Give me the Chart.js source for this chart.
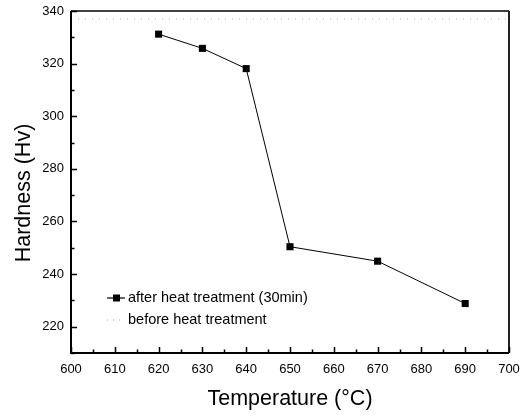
<!DOCTYPE html>
<html>
<head>
<meta charset="utf-8">
<script src="https://cdn.jsdelivr.net/npm/chart.js@4.4.0/dist/chart.umd.min.js"></script>
<style>
  html, body { margin: 0; padding: 0; background: #fff; }
  #wrap { width: 523px; height: 416px; }
</style>
</head>
<body>
<div id="wrap"><canvas id="myChart" width="523" height="416"></canvas></div>
<script>
const temperatures = [620, 630, 640, 650, 670, 690]
const hardnessAfter = [331.2, 325.8, 318.1, 250.4, 244.9, 228.8]
const beforeTemps = [600, 700]
const hardnessBefore = [337, 337]
const xTicks = [600, 610, 620, 630, 640, 650, 660, 670, 680, 690, 700]
const yTicks = [220, 240, 260, 280, 300, 320, 340]
const seriesLabels = ['after heat treatment (30min)', 'before heat treatment']
const yTitle = 'Hardness (Hv)'

const FONT = 'Arial, "Liberation Sans", sans-serif'

// frame, inward ticks, y title and the legend box
const framePlugin = {
    id: 'frame',
    afterDraw(chart){
        const ctx = chart.ctx
        const a = chart.chartArea
        const xs = chart.scales.x
        const ys = chart.scales.y
        ctx.save()
        ctx.strokeStyle = '#000'
        ctx.lineWidth = 1.5
        ctx.beginPath()
        ctx.moveTo(a.left, a.top)
        ctx.lineTo(a.right, a.top)
        ctx.stroke()
        ctx.strokeStyle = '#222'
        ctx.lineWidth = 2
        ctx.beginPath()
        ctx.moveTo(a.right, a.top)
        ctx.lineTo(a.right, a.bottom)
        ctx.stroke()
        ctx.strokeStyle = '#000'
        ctx.lineWidth = 2
        ctx.beginPath()
        ctx.moveTo(a.left, a.top)
        ctx.lineTo(a.left, a.bottom)
        ctx.lineTo(a.right, a.bottom)
        ctx.stroke()

        ctx.lineWidth = 1.5
        ctx.beginPath()
        for(let v = 600; v <= 700; v += 5){
            const px = Math.round(xs.getPixelForValue(v)) + 0.5
            const len = v % 10 === 0 ? 6 : 3.5
            ctx.moveTo(px, a.bottom)
            ctx.lineTo(px, a.bottom - len)
        }
        for(let v = 210; v <= 340; v += 10){
            const py = Math.round(ys.getPixelForValue(v)) + 0.5
            const len = v % 20 === 0 ? 6 : 3.5
            ctx.moveTo(a.left, py)
            ctx.lineTo(a.left + len, py)
        }
        ctx.stroke()

        // y axis title
        ctx.save()
        ctx.translate(24, 193)
        ctx.rotate(-Math.PI / 2)
        ctx.fillStyle = '#000'
        ctx.font = '21.5px ' + FONT
        ctx.textAlign = 'center'
        ctx.textBaseline = 'middle'
        ctx.fillText(yTitle, 0, 0)
        ctx.restore()

        // legend
        const lx = 107, ly1 = 298, ly2 = 320
        ctx.strokeStyle = '#000'
        ctx.lineWidth = 1.2
        ctx.beginPath()
        ctx.moveTo(lx, ly1)
        ctx.lineTo(lx + 18, ly1)
        ctx.stroke()
        ctx.fillStyle = '#000'
        ctx.fillRect(lx + 6, ly1 - 3.5, 7, 7)
        ctx.strokeStyle = '#aaa'
        ctx.lineWidth = 1
        ctx.setLineDash([1, 5])
        ctx.beginPath()
        ctx.moveTo(lx, ly2)
        ctx.lineTo(lx + 18, ly2)
        ctx.stroke()
        ctx.setLineDash([])
        ctx.fillStyle = '#000'
        ctx.font = '14.5px ' + FONT
        ctx.textBaseline = 'middle'
        ctx.fillText(chart.data.datasets[0].label, lx + 21, ly1)
        ctx.fillText(chart.data.datasets[1].label, lx + 21, ly2)
        ctx.restore()
    }
}

const ctx = document.getElementById('myChart')
new Chart(ctx, {
    type: 'scatter',
    data: {
        datasets: [{
            label: seriesLabels[0],
            data: temperatures.map((t, i) => ({x: t, y: hardnessAfter[i]})),
            showLine: true,
            borderColor: '#000',
            borderWidth: 1,
            backgroundColor: '#000',
            pointStyle: 'rect',
            pointRadius: 5,
            pointBorderWidth: 0,
            tension: 0
        }, {
            label: seriesLabels[1],
            data: beforeTemps.map((t, i) => ({x: t, y: hardnessBefore[i]})),
            showLine: true,
            borderColor: '#b8b8b8',
            borderWidth: 1,
            borderDash: [1, 6],
            pointRadius: 0
        }]
    },
    options: {
        responsive: false,
        animation: false,
        devicePixelRatio: 1,
        layout: { padding: { left: 0, top: 11, right: 14, bottom: 0 } },
        plugins: {
            legend: { display: false },
            tooltip: { enabled: false }
        },
        scales: {
            x: {
                type: 'linear',
                min: 600,
                max: 700,
                afterFit(scale){
                    scale.height = 63
                    scale.paddingLeft = 0
                    scale.paddingRight = 0
                },
                afterBuildTicks(scale){ scale.ticks = xTicks.map(v => ({value: v})) },
                grid: { display: false, drawTicks: false },
                border: { display: false },
                ticks: { color: '#000', font: { size: 13, family: FONT }, padding: 9, maxRotation: 0, minRotation: 0 },
                title: {
                    display: true,
                    text: 'Temperature (°C)',
                    color: '#000',
                    font: { size: 21.5, family: FONT },
                    padding: { top: 9 }
                }
            },
            y: {
                min: 210,
                max: 340,
                afterFit(scale){
                    scale.width = 71
                    scale.paddingTop = 0
                    scale.paddingBottom = 0
                },
                afterBuildTicks(scale){ scale.ticks = yTicks.map(v => ({value: v})) },
                grid: { display: false, drawTicks: false },
                border: { display: false },
                ticks: { color: '#000', font: { size: 13, family: FONT }, padding: 7 },
                title: { display: false }
            }
        }
    },
    plugins: [framePlugin]
})
</script>
</body>
</html>
